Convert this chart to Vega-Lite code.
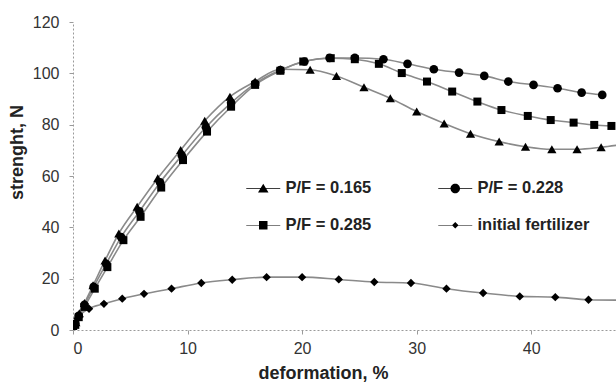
{
  "$schema": "https://vega.github.io/schema/vega-lite/v6.json",
  "autosize": "none",
  "width": 543,
  "height": 308,
  "padding": {"left": 73, "top": 22, "right": 0, "bottom": 53},
  "background": "white",
  "config": {
    "view": {"stroke": null},
    "font": "Liberation Sans",
    "axis": {
      "grid": false,
      "domainColor": "#9a9a9a",
      "domainDash": [2, 2],
      "domainWidth": 1,
      "tickColor": "#9a9a9a",
      "tickSize": 4,
      "labelFont": "Liberation Sans",
      "labelFontSize": 16,
      "labelColor": "#333333",
      "titleFont": "Liberation Sans",
      "titleFontSize": 18,
      "titleFontWeight": "bold",
      "titleColor": "#222222"
    }
  },
  "data": {
    "values": [
      {"series": "P/F = 0.165", "x": 0, "y": 0},
      {"series": "P/F = 0.165", "x": 0.25, "y": 3},
      {"series": "P/F = 0.165", "x": 0.55, "y": 6.5},
      {"series": "P/F = 0.165", "x": 1.0, "y": 10.5},
      {"series": "P/F = 0.165", "x": 1.75, "y": 17.4},
      {"series": "P/F = 0.165", "x": 2.8, "y": 27.1},
      {"series": "P/F = 0.165", "x": 4.0, "y": 37.6},
      {"series": "P/F = 0.165", "x": 5.6, "y": 48.0},
      {"series": "P/F = 0.165", "x": 7.4, "y": 59.1},
      {"series": "P/F = 0.165", "x": 9.4, "y": 70.1},
      {"series": "P/F = 0.165", "x": 11.5, "y": 81.5},
      {"series": "P/F = 0.165", "x": 13.7, "y": 90.9},
      {"series": "P/F = 0.165", "x": 15.9, "y": 96.8},
      {"series": "P/F = 0.165", "x": 18.1, "y": 101.6},
      {"series": "P/F = 0.165", "x": 20.7, "y": 101.4},
      {"series": "P/F = 0.165", "x": 23.0, "y": 99.0},
      {"series": "P/F = 0.165", "x": 25.4, "y": 94.6},
      {"series": "P/F = 0.165", "x": 27.7, "y": 90.3},
      {"series": "P/F = 0.165", "x": 30.0, "y": 85.1},
      {"series": "P/F = 0.165", "x": 32.4, "y": 80.5},
      {"series": "P/F = 0.165", "x": 34.7, "y": 76.5},
      {"series": "P/F = 0.165", "x": 37.2, "y": 73.4},
      {"series": "P/F = 0.165", "x": 39.5, "y": 71.4},
      {"series": "P/F = 0.165", "x": 41.8, "y": 70.4},
      {"series": "P/F = 0.165", "x": 44.0, "y": 70.4},
      {"series": "P/F = 0.165", "x": 46.1, "y": 71.2},
      {"series": "P/F = 0.165", "x": 48.4, "y": 72.6},
      {"series": "P/F = 0.228", "x": 0, "y": 0},
      {"series": "P/F = 0.228", "x": 0.2, "y": 2.5},
      {"series": "P/F = 0.228", "x": 0.5, "y": 5.5},
      {"series": "P/F = 0.228", "x": 1.0, "y": 9.8},
      {"series": "P/F = 0.228", "x": 1.8, "y": 16.8},
      {"series": "P/F = 0.228", "x": 2.9, "y": 25.8},
      {"series": "P/F = 0.228", "x": 4.2, "y": 36.2},
      {"series": "P/F = 0.228", "x": 5.8, "y": 46.2},
      {"series": "P/F = 0.228", "x": 7.6, "y": 57.5},
      {"series": "P/F = 0.228", "x": 9.5, "y": 68.0},
      {"series": "P/F = 0.228", "x": 11.6, "y": 79.0},
      {"series": "P/F = 0.228", "x": 13.8, "y": 88.5},
      {"series": "P/F = 0.228", "x": 15.9, "y": 96.0},
      {"series": "P/F = 0.228", "x": 18.1, "y": 101.3},
      {"series": "P/F = 0.228", "x": 20.2, "y": 104.6},
      {"series": "P/F = 0.228", "x": 22.4, "y": 106.0},
      {"series": "P/F = 0.228", "x": 24.6, "y": 106.0},
      {"series": "P/F = 0.228", "x": 27.1, "y": 105.5},
      {"series": "P/F = 0.228", "x": 29.2, "y": 103.7},
      {"series": "P/F = 0.228", "x": 31.5, "y": 101.6},
      {"series": "P/F = 0.228", "x": 33.7, "y": 100.3},
      {"series": "P/F = 0.228", "x": 35.9, "y": 99.0},
      {"series": "P/F = 0.228", "x": 38.0, "y": 96.8},
      {"series": "P/F = 0.228", "x": 40.2, "y": 95.5},
      {"series": "P/F = 0.228", "x": 42.3, "y": 94.2},
      {"series": "P/F = 0.228", "x": 44.4, "y": 92.5},
      {"series": "P/F = 0.228", "x": 46.2, "y": 91.6},
      {"series": "P/F = 0.285", "x": 0, "y": 0},
      {"series": "P/F = 0.285", "x": 0.2, "y": 2.0},
      {"series": "P/F = 0.285", "x": 0.5, "y": 5.0},
      {"series": "P/F = 0.285", "x": 1.0, "y": 9.0},
      {"series": "P/F = 0.285", "x": 1.9, "y": 16.1},
      {"series": "P/F = 0.285", "x": 3.0, "y": 24.5},
      {"series": "P/F = 0.285", "x": 4.4, "y": 35.0},
      {"series": "P/F = 0.285", "x": 5.9, "y": 44.1},
      {"series": "P/F = 0.285", "x": 7.7, "y": 55.5},
      {"series": "P/F = 0.285", "x": 9.6, "y": 66.2},
      {"series": "P/F = 0.285", "x": 11.7, "y": 77.3},
      {"series": "P/F = 0.285", "x": 13.8, "y": 87.0},
      {"series": "P/F = 0.285", "x": 15.9, "y": 95.5},
      {"series": "P/F = 0.285", "x": 18.1, "y": 101.0},
      {"series": "P/F = 0.285", "x": 20.1, "y": 104.6},
      {"series": "P/F = 0.285", "x": 22.5, "y": 105.9},
      {"series": "P/F = 0.285", "x": 24.6, "y": 105.5},
      {"series": "P/F = 0.285", "x": 26.7, "y": 103.7},
      {"series": "P/F = 0.285", "x": 28.7, "y": 100.1},
      {"series": "P/F = 0.285", "x": 30.9, "y": 96.8},
      {"series": "P/F = 0.285", "x": 33.1, "y": 92.9},
      {"series": "P/F = 0.285", "x": 35.3, "y": 89.0},
      {"series": "P/F = 0.285", "x": 37.4, "y": 85.7},
      {"series": "P/F = 0.285", "x": 39.7, "y": 83.4},
      {"series": "P/F = 0.285", "x": 41.7, "y": 81.8},
      {"series": "P/F = 0.285", "x": 43.7, "y": 80.8},
      {"series": "P/F = 0.285", "x": 45.5, "y": 79.9},
      {"series": "P/F = 0.285", "x": 47.0, "y": 79.5},
      {"series": "initial fertilizer", "x": 0, "y": 0},
      {"series": "initial fertilizer", "x": 0.4, "y": 4.5},
      {"series": "initial fertilizer", "x": 1.4, "y": 8.3},
      {"series": "initial fertilizer", "x": 2.7, "y": 10.2},
      {"series": "initial fertilizer", "x": 4.3, "y": 12.2},
      {"series": "initial fertilizer", "x": 6.2, "y": 14.1},
      {"series": "initial fertilizer", "x": 8.6, "y": 16.1},
      {"series": "initial fertilizer", "x": 11.2, "y": 18.3},
      {"series": "initial fertilizer", "x": 13.9, "y": 19.6},
      {"series": "initial fertilizer", "x": 16.9, "y": 20.6},
      {"series": "initial fertilizer", "x": 20.0, "y": 20.6},
      {"series": "initial fertilizer", "x": 23.2, "y": 19.7},
      {"series": "initial fertilizer", "x": 26.3, "y": 18.7},
      {"series": "initial fertilizer", "x": 29.5, "y": 18.3},
      {"series": "initial fertilizer", "x": 32.6, "y": 16.1},
      {"series": "initial fertilizer", "x": 35.8, "y": 14.4},
      {"series": "initial fertilizer", "x": 39.0, "y": 13.1},
      {"series": "initial fertilizer", "x": 42.1, "y": 12.8},
      {"series": "initial fertilizer", "x": 45.0, "y": 11.8},
      {"series": "initial fertilizer", "x": 48.2, "y": 11.6}
    ]
  },
  "encoding": {
    "x": {
      "field": "x", "type": "quantitative",
      "scale": {"domain": [0, 47.4], "nice": false, "zero": false},
      "axis": {
        "values": [0, 10, 20, 30, 40],
        "title": "deformation, %",
        "labelPadding": 6,
        "titleX": 250, "titleY": 34, "titleBaseline": "top", "titleAlign": "center", "titleAnchor": "start"
      }
    },
    "y": {
      "field": "y", "type": "quantitative",
      "scale": {"domain": [0, 120], "nice": false},
      "axis": {
        "values": [0, 20, 40, 60, 80, 100, 120],
        "title": "strenght, N",
        "labelPadding": 10,
        "titleX": -56, "titleY": 130, "titleBaseline": "middle", "titleAlign": "center", "titleAngle": -90, "titleAnchor": "start"
      }
    }
  },
  "layer": [
    {
      "mark": {"type": "line", "interpolate": "monotone", "stroke": "#8a8a8a", "strokeWidth": 1.6, "clip": true},
      "encoding": {"detail": {"field": "series"}}
    },
    {
      "transform": [{"filter": "datum.series == 'initial fertilizer'"}],
      "mark": {"type": "point", "shape": "diamond", "filled": true, "color": "black", "opacity": 1, "size": 70, "clip": true}
    },
    {
      "transform": [{"filter": "datum.series == 'P/F = 0.165'"}],
      "mark": {"type": "point", "shape": "triangle-up", "filled": true, "color": "black", "opacity": 1, "size": 85, "clip": true}
    },
    {
      "transform": [{"filter": "datum.series == 'P/F = 0.285'"}],
      "mark": {"type": "point", "shape": "square", "filled": true, "color": "black", "opacity": 1, "size": 64, "clip": true}
    },
    {
      "transform": [{"filter": "datum.series == 'P/F = 0.228'"}],
      "mark": {"type": "point", "shape": "circle", "filled": true, "color": "black", "opacity": 1, "size": 75, "clip": true}
    },
    {
      "mark": {"type": "point", "filled": true, "color": "black", "opacity": 0, "size": 100},
      "encoding": {
        "shape": {
          "field": "series", "type": "nominal",
          "scale": {
            "domain": ["P/F = 0.165", "P/F = 0.228", "P/F = 0.285", "initial fertilizer"],
            "range": [
              "M-3.4,-0.07L3.4,-0.07L3.4,0.07L-3.4,0.07ZM0,-0.95L1.05,0.8L-1.05,0.8Z",
              "M-3.4,-0.07L3.4,-0.07L3.4,0.07L-3.4,0.07ZM0.95,0A0.95,0.95,0,1,1,-0.95,0A0.95,0.95,0,1,1,0.95,0Z",
              "M-3.4,-0.07L3.4,-0.07L3.4,0.07L-3.4,0.07ZM-0.85,-0.85L0.85,-0.85L0.85,0.85L-0.85,0.85Z",
              "M-3.4,-0.07L3.4,-0.07L3.4,0.07L-3.4,0.07ZM0,-0.65L0.65,0L0,0.65L-0.65,0Z"
            ]
          },
          "legend": {
            "title": null,
            "orient": "none",
            "direction": "horizontal",
            "legendX": 182,
            "legendY": 158,
            "columns": 2,
            "columnPadding": 64,
            "rowPadding": 20,
            "symbolSize": 100,
            "symbolOpacity": 1,
            "symbolFillColor": "black",
            "symbolStrokeColor": "#858585",
            "symbolStrokeWidth": 1,
            "labelOffset": 14,
            "labelFont": "Liberation Sans",
            "labelFontSize": 16.5,
            "labelFontWeight": "bold",
            "labelColor": "#222222",
            "labelLimit": 300,
            "encode": {
              "symbols": {
                "opacity": {"value": 1},
                "fill": {"value": "#111111"},
                "fillOpacity": {"value": 1},
                "stroke": {"value": "#858585"},
                "strokeOpacity": {"value": 1},
                "strokeWidth": {"value": 1}
              }
            }
          }
        }
      }
    }
  ]
}
